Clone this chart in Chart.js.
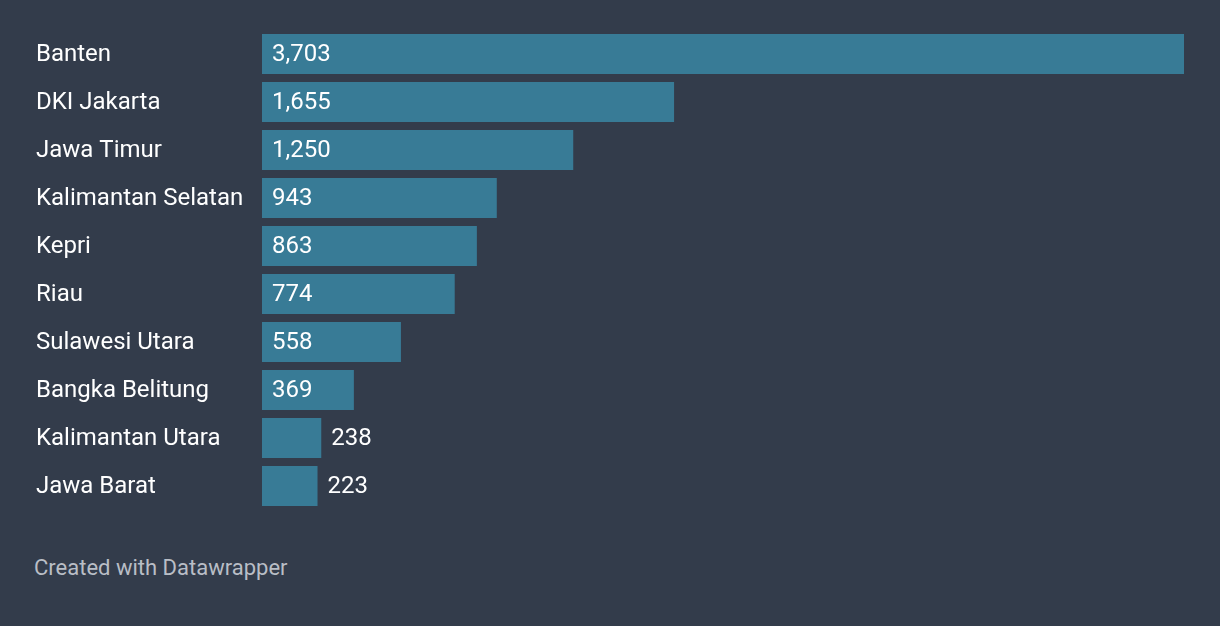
<!DOCTYPE html>
<html>
<head>
<meta charset="utf-8">
<script src="https://cdn.jsdelivr.net/npm/chart.js@4"></script>
<style>
  html, body { margin: 0; padding: 0; background: #333c4b; }
  #wrap { position: relative; width: 1220px; height: 626px; }
  #footer {
    position: absolute; left: 34px; top: 555px;
    font-family: Roboto, sans-serif; font-size: 22px; color: #b9bec6;
  }
</style>
</head>
<body>
<div id="wrap">
  <canvas id="chart" width="1220" height="540"></canvas>
  <div id="footer">Created with Datawrapper</div>
</div>
<script>
const provinces = ['Banten', 'DKI Jakarta', 'Jawa Timur', 'Kalimantan Selatan', 'Kepri', 'Riau', 'Sulawesi Utara', 'Bangka Belitung', 'Kalimantan Utara', 'Jawa Barat'];
const cases = [3703, 1655, 1250, 943, 863, 774, 558, 369, 238, 223];

// angka di dalam / di luar batang
const valueLabels = {
  id: 'valueLabels',
  afterDatasetsDraw(chart) {
    const { ctx } = chart;
    const meta = chart.getDatasetMeta(0);
    ctx.save();
    ctx.font = '24px Roboto, sans-serif';
    ctx.fillStyle = '#ffffff';
    ctx.textBaseline = 'middle';
    ctx.textAlign = 'left';
    meta.data.forEach((bar, i) => {
      const text = cases[i].toLocaleString('en-US');
      const w = ctx.measureText(text).width;
      const barW = bar.x - bar.base;
      const x = (w + 20 < barW) ? bar.base + 10 : bar.x + 10;
      ctx.fillText(text, x, bar.y + 1);
    });
    ctx.restore();
  }
};

new Chart(document.getElementById('chart'), {
  type: 'bar',
  data: {
    labels: provinces,
    datasets: [{
      data: cases,
      backgroundColor: '#387b96',
      borderWidth: 0,
      categoryPercentage: 1,
      barPercentage: 40 / 48
    }]
  },
  options: {
    indexAxis: 'y',
    responsive: false,
    animation: false,
    layout: { padding: { left: 36, right: 36, top: 30, bottom: 30 } },
    plugins: {
      legend: { display: false },
      tooltip: { enabled: false }
    },
    scales: {
      x: {
        display: false,
        min: 0,
        max: 3703
      },
      y: {
        grid: { display: false },
        border: { display: false },
        afterFit(scale) { scale.width = 226; },
        ticks: {
          crossAlign: 'far',
          color: '#ffffff',
          padding: 0,
          labelOffset: 1,
          font: { family: 'Roboto, sans-serif', size: 24 }
        }
      }
    }
  },
  plugins: [valueLabels]
});
</script>
</body>
</html>
